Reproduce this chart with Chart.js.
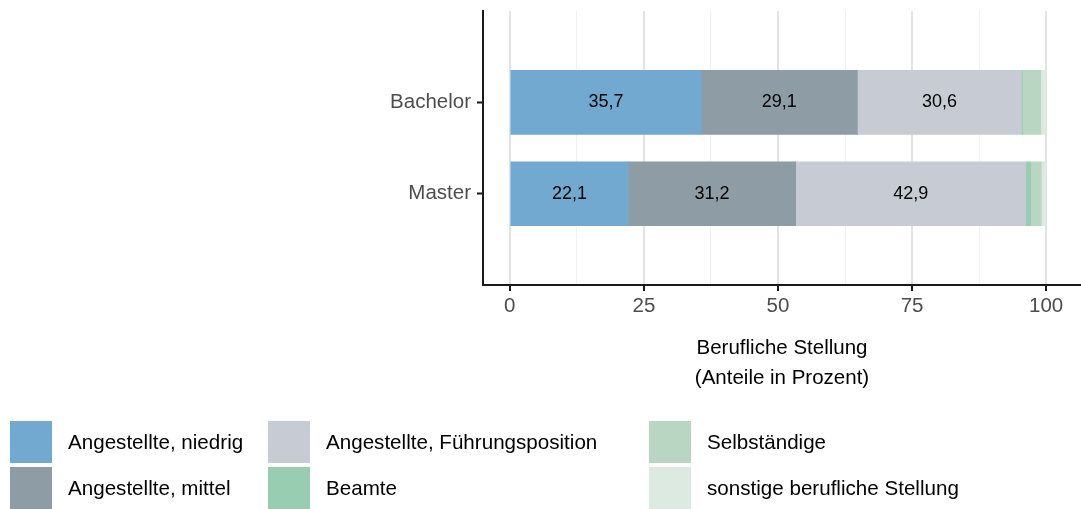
<!DOCTYPE html>
<html>
<head>
<meta charset="utf-8">
<script src="https://cdn.jsdelivr.net/npm/chart.js@4"></script>
<style>
  body { margin: 0; background: #fff; font-family: Arial, "Liberation Sans", sans-serif; }
  .wrap { position: relative; width: 1081px; height: 509px; }
  .legend { position: absolute; left: 0; top: 0; }
  .item { position: absolute; display: flex; align-items: center; font-size: 20.6px; color: #000; white-space: nowrap; }
  .item span.box { width: 42px; height: 42px; flex-shrink: 0; display: inline-block; margin-right: 16px; }
</style>
</head>
<body>
<div class="wrap">
  <canvas id="chart" width="1081" height="509"></canvas>
  <div class="legend" id="legend"></div>
</div>
<script>
// Daten
const categories = ['Bachelor', 'Master'];
const seriesNames = ['Angestellte, niedrig', 'Angestellte, mittel', 'Angestellte, Führungsposition',
                     'Beamte', 'Selbständige', 'sonstige berufliche Stellung'];
const niedrig = [35.7, 22.1];
const mittel = [29.1, 31.2];
const fuehrung = [30.6, 42.9];
const beamte = [0.2, 0.9];
const selbst = [3.4, 2.0];
const sonstige = [1.0, 0.9];
const xTicks = [0, 25, 50, 75, 100];

const colors = ['#72a9d0', '#8e9ca6', '#c6cbd4', '#98cdb2', '#b8d6c2', '#dceae2'];
const values = [niedrig, mittel, fuehrung, beamte, selbst, sonstige];

// leere Kategorien oben/unten, damit Abstand wie im Original
const labels = [''].concat(categories, ['']);
const pad = arr => [null].concat(arr, [null]);

const datasets = values.map((v, i) => ({
  label: seriesNames[i],
  data: pad(v),
  backgroundColor: colors[i],
  borderWidth: 0,
  barThickness: 64
}));

// Werte in die Balken schreiben (nur die drei großen Gruppen)
const barLabels = {
  id: 'barLabels',
  afterDatasetsDraw(chart) {
    const ctx = chart.ctx;
    ctx.save();
    ctx.font = '18px Arial, "Liberation Sans"';
    ctx.fillStyle = '#000';
    ctx.textAlign = 'center';
    ctx.textBaseline = 'middle';
    for (let d = 0; d < 3; d++) {
      chart.getDatasetMeta(d).data.forEach((bar, i) => {
        const v = chart.data.datasets[d].data[i];
        if (v == null) return;
        const p = bar.getProps(['x', 'y', 'base'], true);
        ctx.fillText(v.toFixed(1).replace('.', ','), (p.x + p.base) / 2, p.y);
      });
    }
    ctx.restore();
  }
};

const minor = xTicks.slice(1).map((t, i) => (t + xTicks[i]) / 2);
const fam = 'Arial, "Liberation Sans"';

new Chart(document.getElementById('chart'), {
  type: 'bar',
  data: { labels: labels, datasets: datasets },
  options: {
    indexAxis: 'y',
    responsive: false,
    animation: false,
    layout: { padding: { top: 0, right: 0, left: 0, bottom: 0 } },
    plugins: { legend: { display: false }, tooltip: { enabled: false } },
    scales: {
      x: {
        stacked: true,
        min: -5,
        max: 106.5,
        afterBuildTicks: s => {
          s.ticks = xTicks.concat(minor).sort((a, b) => a - b).map(v => ({ value: v }));
        },
        afterFit: s => { s.height = 224; },
        border: { display: true, color: '#1a1a1a', width: 2 },
        grid: {
          color: c => xTicks.includes(c.tick.value) ? '#e3e3e3' : '#f1f1f1',
          lineWidth: c => xTicks.includes(c.tick.value) ? 2 : 1,
          tickColor: c => xTicks.includes(c.tick.value) ? '#1a1a1a' : 'rgba(0,0,0,0)',
          tickLength: 6,
          tickWidth: 2
        },
        ticks: {
          autoSkip: false,
          maxRotation: 0,
          padding: 3,
          color: '#4d4d4d',
          font: { size: 20.5, family: fam },
          callback: v => xTicks.includes(v) ? String(v) : ''
        },
        title: {
          display: true,
          text: ['Berufliche Stellung', '(Anteile in Prozent)'],
          color: '#000',
          font: { size: 20.5, family: fam, lineHeight: 1.46 },
          padding: { top: 0, bottom: 116 }
        }
      },
      y: {
        stacked: true,
        offset: false,
        afterFit: s => { s.width = 483; },
        border: { display: true, color: '#1a1a1a', width: 2 },
        grid: {
          offset: false,
          drawOnChartArea: false,
          tickLength: 6,
          tickWidth: 2,
          tickColor: c => c.tick && c.tick.label ? '#1a1a1a' : 'rgba(0,0,0,0)'
        },
        ticks: {
          autoSkip: false,
          padding: 6,
          color: '#4d4d4d',
          font: { size: 20.5, family: fam, lineHeight: 0.5 }
        }
      }
    }
  },
  plugins: [barLabels]
});

// Legende als HTML, 3 Spalten x 2 Zeilen
const colX = [10, 268, 649];
const rowY = [421, 467];
const legendOrder = [[0, 0, 0], [1, 0, 1], [2, 1, 0], [3, 1, 1], [4, 2, 0], [5, 2, 1]];
const leg = document.getElementById('legend');
legendOrder.forEach(([i, c, r]) => {
  const el = document.createElement('div');
  el.className = 'item';
  el.style.left = colX[c] + 'px';
  el.style.top = rowY[r] + 'px';
  el.innerHTML = '<span class="box" style="background:' + colors[i] + '"></span>' + seriesNames[i];
  leg.appendChild(el);
});
</script>
</body>
</html>
